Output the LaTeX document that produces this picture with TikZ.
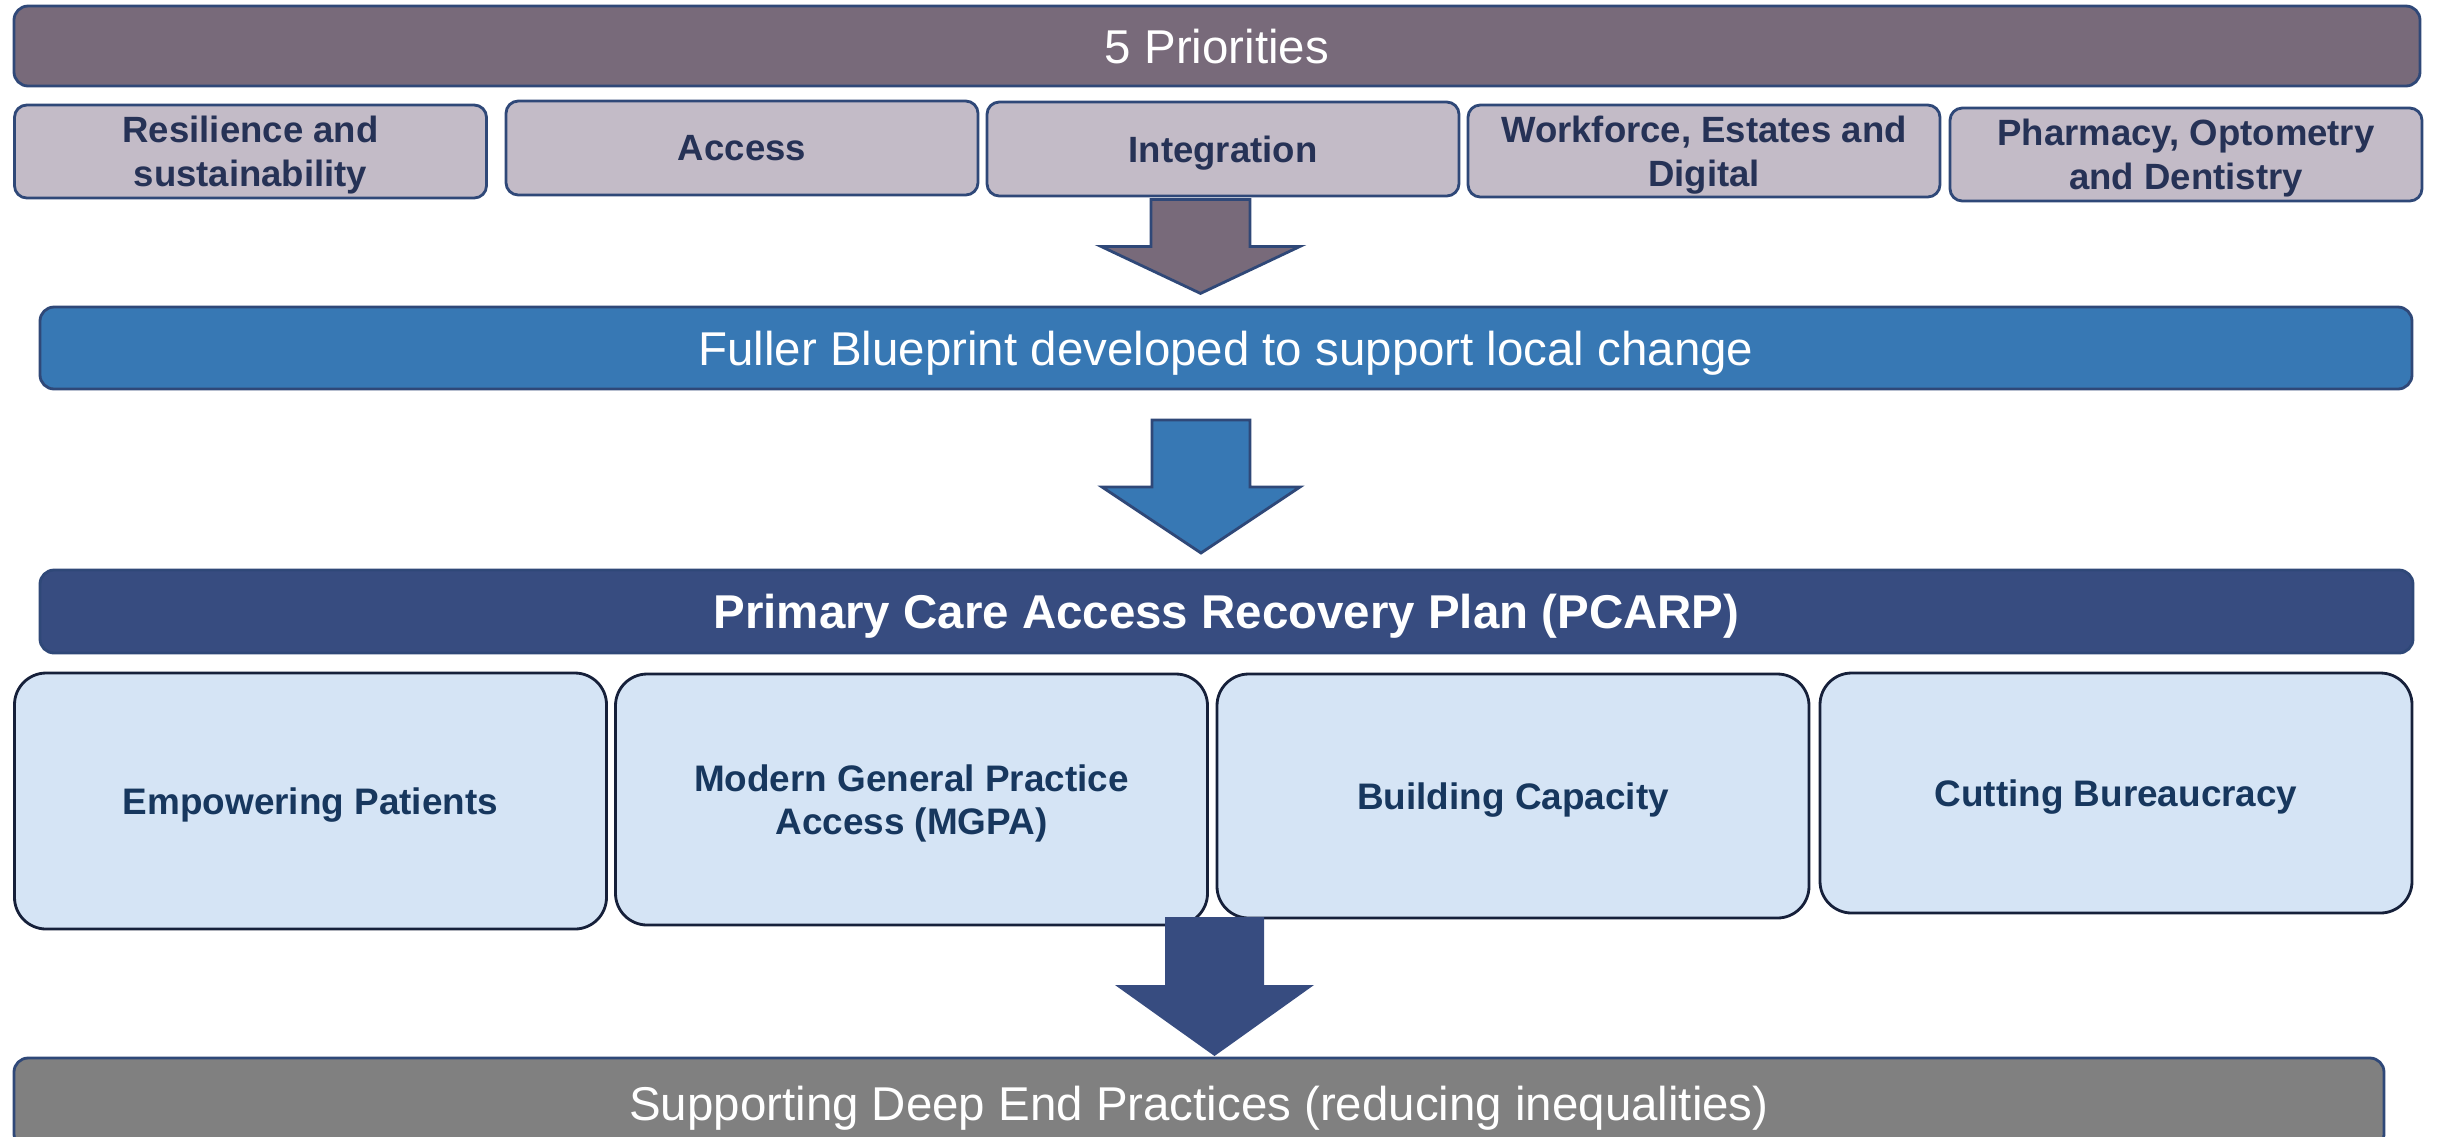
\documentclass[tikz,border=0pt]{standalone}
\usepackage{fontspec}
\setmainfont{Liberation Sans}
\usepackage{tikz}
\usetikzlibrary{positioning,calc}

\definecolor{barmauve}{RGB}{120,106,122}
\definecolor{priofill}{RGB}{195,187,199}
\definecolor{navytext}{RGB}{38,50,86}
\definecolor{edgeblue}{RGB}{47,72,120}
\definecolor{blueprint}{RGB}{55,120,180}
\definecolor{pcarpblue}{RGB}{55,76,128}
\definecolor{pillarfill}{RGB}{213,228,245}
\definecolor{pillartext}{RGB}{23,55,94}
\definecolor{pillaredge}{RGB}{22,32,58}
\definecolor{deepgrey}{RGB}{128,128,128}

\begin{document}
\begin{tikzpicture}[x=1cm, y=-1cm,
	bar/.style={draw=edgeblue, line width=0.8pt, rounded corners=4pt, inner sep=0pt, text depth=0pt, text=white, font=\fontsize{13.5}{16}\selectfont},
	prio/.style={draw=edgeblue, line width=0.8pt, fill=priofill, rounded corners=3.5pt, inner sep=0pt, text depth=0pt, minimum width=4.72cm, align=center, text=navytext, font=\bfseries\fontsize{10.4}{12.4}\selectfont},
	pillar/.style={draw=pillaredge, line width=0.8pt, fill=pillarfill, rounded corners=9pt, inner sep=0pt, text depth=0pt, minimum width=5.92cm, align=center, text=pillartext, font=\bfseries\fontsize{10.5}{12.4}\selectfont}]
		\useasboundingbox (0,0) rectangle (24.38,11.36);
		\clip (0,0) rectangle (24.38,11.36);
		
		\node[bar, fill=barmauve, minimum width=24.06cm, minimum height=0.80cm] (prios) at (12.17,0.46) {5 Priorities};
		\node[prio, minimum height=0.93cm] (resil) at (2.505,1.515) {Resilience and\\sustainability};
		\node[prio, minimum height=0.94cm] (access) at (7.42,1.48) {Access};
		\node[prio, minimum height=0.94cm] (integ) at (12.23,1.49) {Integration};
		\node[prio, minimum height=0.92cm] (work) at (17.04,1.51) {Workforce, Estates and\\Digital};
		\node[prio, minimum height=0.93cm] (pharm) at (21.86,1.545) {Pharmacy, Optometry\\and Dentistry};
		
		\node[bar, fill=blueprint, minimum width=23.72cm, minimum height=0.82cm] (fuller) at (12.26,3.48) {Fuller Blueprint developed to support local change};
		\node[bar, fill=pcarpblue, minimum width=23.73cm, minimum height=0.83cm, font=\bfseries\fontsize{13.5}{16}\selectfont] (pcarp) at (12.265,6.115) {Primary Care Access Recovery Plan (PCARP)};
		
		\node[pillar, minimum height=2.56cm] (empower) at (3.105,8.01) {Empowering Patients};
		\node[pillar, minimum height=2.51cm] (mgpa) at (9.115,7.995) {Modern General Practice\\Access (MGPA)};
		\node[pillar, minimum height=2.44cm] (build) at (15.13,7.96) {Building Capacity};
		\node[pillar, minimum height=2.40cm] (cut) at (21.16,7.93) {Cutting Bureaucracy};
		
		\node[bar, fill=deepgrey, minimum width=23.70cm, minimum height=0.90cm] (deep) at (11.99,11.03) {Supporting Deep End Practices (reducing inequalities)};
		
		\coordinate (a1) at ($ (integ.south) + (-0.225,0.02) $);
		\coordinate (a2) at (12.01,4.20);
		\coordinate (a3) at (12.145,9.17);
		\draw[fill=barmauve, draw=edgeblue, line width=0.8pt] (a1) ++(-0.495,0) -- ++(0.99,0) -- ++(0,0.47) -- ++(0.5,0) -- ++(-0.995,0.47) -- ++(-0.995,-0.47) -- ++(0.5,0) -- cycle;
		\draw[fill=blueprint, draw=edgeblue, line width=0.8pt] (a2) ++(-0.49,0) -- ++(0.98,0) -- ++(0,0.67) -- ++(0.5,0) -- ++(-0.99,0.66) -- ++(-0.99,-0.66) -- ++(0.5,0) -- cycle;
		\fill[pcarpblue] (a3) ++(-0.495,0) -- ++(0.99,0) -- ++(0,0.68) -- ++(0.5,0) -- ++(-0.995,0.71) -- ++(-0.995,-0.71) -- ++(0.5,0) -- cycle;
\end{tikzpicture}
\end{document}
